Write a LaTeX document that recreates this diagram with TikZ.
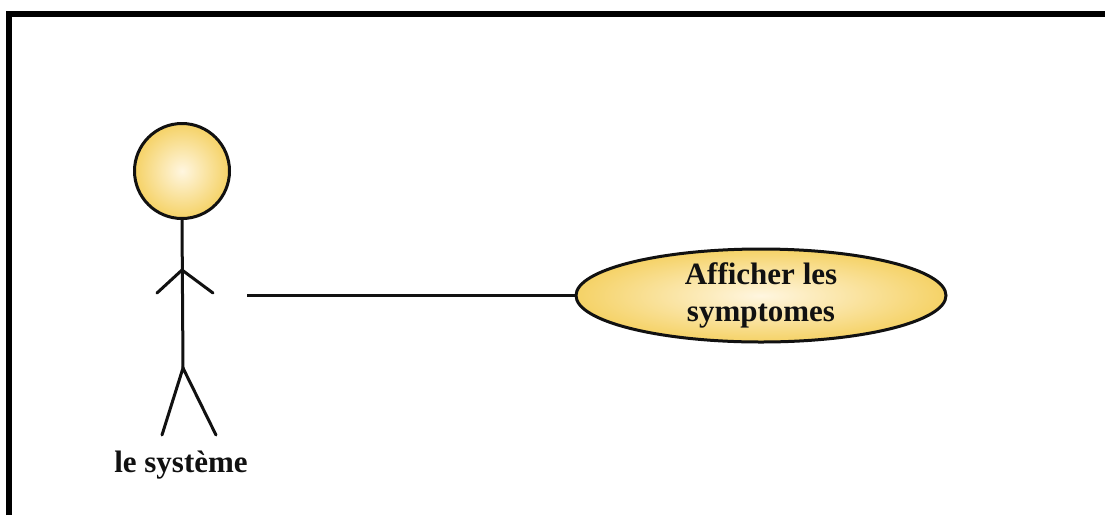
\documentclass[tikz,border=0pt]{standalone}
\usepackage{fontspec}
\setmainfont{Liberation Serif}
\usetikzlibrary{shapes.geometric}
\definecolor{goldedge}{HTML}{F5D266}
\definecolor{goldcore}{HTML}{FFF6E0}
\definecolor{inkblack}{HTML}{111111}
\tikzset{
  goldfill/.style={inner color=goldcore, outer color=goldedge},
  limb/.style={draw=inkblack, line width=3pt, line cap=round},
  headshape/.style={circle, goldfill, draw=inkblack, line width=3pt,
    minimum size=95pt, inner sep=0pt},
  usecase/.style={ellipse, goldfill, draw=inkblack, line width=3pt,
    minimum width=370pt, minimum height=93pt, inner sep=0pt,
    align=center, font=\bfseries\fontsize{31}{37}\selectfont, text=inkblack},
  actorlabel/.style={font=\bfseries\fontsize{31}{33}\selectfont, text=inkblack, inner sep=0pt},
  frameline/.style={draw=black, line width=6pt},
  assoc/.style={draw=inkblack, line width=3pt}
}
\begin{document}
\begin{tikzpicture}[x=1pt,y=-1pt]
  \useasboundingbox (0,0) rectangle (1105,515);
  \fill[white] (0,0) rectangle (1105,515);
  % frame: top and left edges
  \draw[frameline] (9,515) -- (9,14) -- (1105,14);

  % actor
  \node[headshape] (head) at (182,171) {};
  \coordinate (shoulder) at (182,270);
  \coordinate (hip) at (183,368);
  \coordinate (lhand) at (157,293);
  \coordinate (rhand) at (213,293);
  \coordinate (lfoot) at (162,435);
  \coordinate (rfoot) at (216,435);
  \draw[limb] (head.south) -- (hip);
  \draw[limb] (lhand) -- (shoulder) -- (rhand);
  \draw[limb] (lfoot) -- (hip) -- (rfoot);
  \node[actorlabel, anchor=base] (actorname) at (181,472) {le système};

  % use case and its association with the actor
  \node[usecase] (uc) at (761,295.5) {Afficher les\\symptomes};
  \coordinate (assocstart) at (247,295.5);
  \draw[assoc] (assocstart) -- (uc.west);
\end{tikzpicture}
\end{document}
